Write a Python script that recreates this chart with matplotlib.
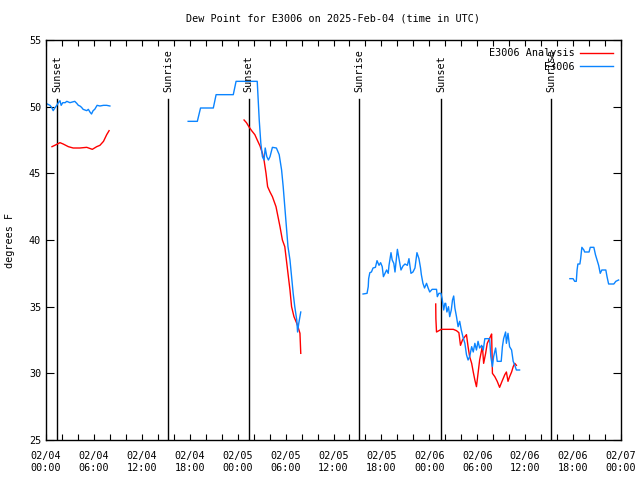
import matplotlib
matplotlib.use("Agg")
import matplotlib.pyplot as plt
import numpy as np

# hours since 02/04 00:00 UTC, dew point in degrees F
obs_hours_1 = [0.16, 0.5, 0.75, 0.9, 1.1, 1.35, 1.55, 1.75, 1.9, 2.1, 2.4, 2.6, 3.0, 3.6, 3.85,
               4.05, 4.25, 4.45, 4.65, 5.1, 5.3, 5.5, 5.7, 5.9, 6.1, 6.4, 6.75, 7.2, 7.6, 8.0]
obs_vals_1 = [50.2, 50.1, 49.9, 49.7, 49.9, 50.1, 50.3, 50.45, 50.1, 50.3, 50.3, 50.4, 50.3, 50.4, 50.25,
              50.1, 50.05, 49.95, 49.8, 49.7, 49.8, 49.6, 49.45, 49.7, 49.8, 50.1, 50.05, 50.1, 50.1, 50.05]

obs_hours_2 = [17.8, 18.95, 19.35, 20.95, 21.3, 23.45, 23.8, 26.45, 26.7, 26.9, 27.0, 27.1, 27.3, 27.45,
               27.65, 27.85, 28.05, 28.35, 28.85, 29.2, 29.5, 29.7, 29.9, 30.1, 30.3, 30.55, 30.75,
               30.95, 31.15, 31.4, 31.5, 31.65, 31.9]
obs_vals_2 = [48.9, 48.9, 49.9, 49.9, 50.9, 50.9, 51.9, 51.9, 49.0, 47.25, 46.75, 46.25, 46.0, 46.9,
              46.25, 46.0, 46.25, 46.95, 46.9, 46.4, 45.25, 44.0, 42.5, 41.0, 39.5, 38.5, 37.25,
              36.0, 35.0, 34.0, 33.1, 33.75, 34.6]

obs_hours_3 = [39.7, 40.2, 40.35, 40.4, 40.55, 40.75, 40.95, 41.25, 41.45, 41.7, 41.9, 42.1, 42.25,
               42.45, 42.65, 42.85, 42.95, 43.2, 43.35, 43.55, 43.7, 43.9, 44.0, 44.2, 44.45, 44.7,
               44.95, 45.25, 45.45, 45.7, 45.95, 46.2, 46.45, 46.7, 46.9, 47.0, 47.2, 47.4, 47.65,
               47.85, 48.05, 48.35, 48.9, 49.0, 49.2, 49.45, 49.6, 49.8, 49.95, 50.05, 50.2, 50.4,
               50.55, 50.75, 50.9, 51.05, 51.2, 51.4, 51.6, 51.8, 52.0, 52.2, 52.45, 52.65, 52.85,
               53.05, 53.3, 53.5, 53.7, 53.9, 54.1, 54.3, 54.55, 54.75, 54.95, 55.55, 55.7, 55.9,
               56.05, 56.3, 56.5, 57.0, 57.15, 57.3, 57.55, 57.65, 57.85, 58.05, 58.3, 58.5, 58.7,
               58.9, 59.3]
obs_vals_3 = [35.95, 36.0, 36.5, 37.1, 37.55, 37.6, 37.9, 37.95, 38.45, 38.1, 38.3, 38.0, 37.25,
              37.5, 37.75, 37.5, 38.1, 39.05, 38.5, 38.25, 37.6, 38.75, 39.3, 38.6, 37.75, 38.05,
              38.2, 38.1, 38.6, 37.5, 37.6, 37.9, 39.05, 38.6, 37.9, 37.4, 36.75, 36.4, 36.75,
              36.4, 36.1, 36.3, 36.3, 35.75, 36.0, 36.0, 35.6, 34.75, 35.25, 35.25, 34.6, 35.0,
              34.25, 34.75, 35.5, 35.8, 34.9, 34.25, 33.5, 33.9, 33.25, 32.75, 32.25, 31.4, 31.0,
              31.25, 32.0, 31.6, 32.25, 31.75, 32.4, 31.9, 32.1, 31.75, 32.6, 32.6, 31.25, 30.5,
              31.25, 31.9, 30.9, 30.9, 32.0, 32.6, 33.1, 32.25, 33.0, 32.0, 31.75, 30.9, 30.6,
              30.25, 30.25]

obs_hours_4 = [65.6, 66.0, 66.2, 66.4, 66.5, 66.6, 66.85, 66.95, 67.1, 67.35, 67.45, 68.0, 68.15,
               68.6, 68.8, 69.0, 69.2, 69.4, 69.6, 70.1, 70.25, 70.45, 71.1, 71.35, 71.7]
obs_vals_4 = [37.1, 37.1, 36.9, 36.9, 37.75, 38.2, 38.2, 38.6, 39.45, 39.25, 39.1, 39.1, 39.45,
              39.45, 38.9, 38.5, 38.1, 37.5, 37.75, 37.75, 37.25, 36.7, 36.7, 36.9, 37.0]

ana_hours_1 = [0.75, 1.1, 1.75, 2.15, 2.8, 3.4, 4.25, 5.1, 5.8, 6.35, 6.75, 7.2, 7.6, 7.9]
ana_vals_1 = [47.0, 47.1, 47.3, 47.2, 47.0, 46.9, 46.9, 46.95, 46.8, 47.0, 47.1, 47.4, 47.9, 48.2]

ana_hours_2 = [24.8, 25.1, 25.4, 25.75, 26.15, 26.45, 26.8, 27.1, 27.3, 27.55, 27.75, 28.05, 28.35,
               28.8, 29.05, 29.3, 29.6, 29.9, 30.1, 30.3, 30.55, 30.75, 31.05, 31.4, 31.6, 31.8, 31.9]
ana_vals_2 = [49.0, 48.8, 48.5, 48.2, 47.9, 47.5, 47.05, 46.5, 46.0, 45.0, 44.0, 43.6, 43.25,
              42.5, 41.75, 41.0, 40.0, 39.5, 38.5, 37.5, 36.25, 35.0, 34.25, 33.75, 33.4, 33.0, 31.5]

ana_hours_3 = [48.8, 48.82, 48.9, 49.2, 49.5, 51.0, 51.4, 51.7, 51.9, 52.15, 52.45, 52.65, 52.85,
               53.05, 53.3, 53.5, 53.7, 53.9, 54.1, 54.3, 54.55, 54.65, 54.8, 55.05, 55.25, 55.45,
               55.65, 55.8, 55.9, 56.2, 56.5, 56.8, 57.1, 57.45, 57.65, 57.85, 58.05, 58.3, 58.5,
               58.7, 58.9]
ana_vals_3 = [35.2, 34.1, 33.1, 33.2, 33.3, 33.3, 33.2, 33.05, 32.1, 32.5, 32.75, 32.9, 32.0,
              31.25, 30.75, 30.1, 29.5, 29.0, 30.0, 31.0, 31.75, 32.0, 30.75, 31.5, 32.25, 32.5,
              32.75, 32.95, 30.0, 29.75, 29.4, 28.95, 29.4, 29.9, 30.1, 29.4, 29.75, 30.1, 30.5,
              30.75, 30.6]

sun_hours = [1.42, 15.3, 25.4, 39.25, 49.45, 63.25]
sun_labels = ["Sunset", "Sunrise", "Sunset", "Sunrise", "Sunset", "Sunrise"]

tick_hours = list(range(0, 73, 6))
tick_labels = ["02/04\n00:00", "02/04\n06:00", "02/04\n12:00", "02/04\n18:00",
               "02/05\n00:00", "02/05\n06:00", "02/05\n12:00", "02/05\n18:00",
               "02/06\n00:00", "02/06\n06:00", "02/06\n12:00", "02/06\n18:00",
               "02/07\n00:00"]

fs = 7.3
plt.rcParams["font.family"] = ["DejaVu Sans Mono"]
plt.rcParams["font.size"] = fs

red = "#ff0000"
blue = "#0a84ff"

fig = plt.figure(figsize=(6.4, 4.8), dpi=100)
ax = fig.add_axes([46 / 640, 40 / 480, 575 / 640, 400 / 480])

# sunrise / sunset markers
for h, lab in zip(sun_hours, sun_labels):
    ax.plot([h, h], [25, 50.55], color="black", linewidth=1.0)
    ax.text(h, 51.1, lab, rotation=90, ha="center", va="bottom", fontsize=fs)

first = True
for hx, vy in [(ana_hours_1, ana_vals_1), (ana_hours_2, ana_vals_2), (ana_hours_3, ana_vals_3)]:
    ax.plot(hx, vy, color=red, linewidth=1.0, label="E3006 Analysis" if first else None)
    first = False
first = True
for hx, vy in [(obs_hours_1, obs_vals_1), (obs_hours_2, obs_vals_2),
               (obs_hours_3, obs_vals_3), (obs_hours_4, obs_vals_4)]:
    ax.plot(hx, vy, color=blue, linewidth=1.0, label="E3006" if first else None)
    first = False

ax.set_xlim(0, 72)
ax.set_ylim(25, 55)
ax.set_xticks(tick_hours)
ax.set_xticklabels(tick_labels)
ax.set_xticks(np.arange(0, 73, 2), minor=True)
ax.set_yticks(np.arange(25, 56, 5))
ax.tick_params(axis="x", which="both", direction="in", top=True, length=4, width=0.8, pad=8)
ax.tick_params(axis="y", direction="in", right=True, length=6, width=0.8)
for s in ax.spines.values():
    s.set_linewidth(1.0)

ax.set_title("Dew Point for E3006 on 2025-Feb-04 (time in UTC)", fontsize=fs, pad=13)
ax.set_ylabel("degrees F", fontsize=fs, labelpad=10)

ax.legend(loc="upper right", frameon=False, markerfirst=False, handlelength=3.2,
          borderaxespad=0.4, labelspacing=0.35, handletextpad=0.6, fontsize=fs)

plt.savefig("out.png", dpi=100)
